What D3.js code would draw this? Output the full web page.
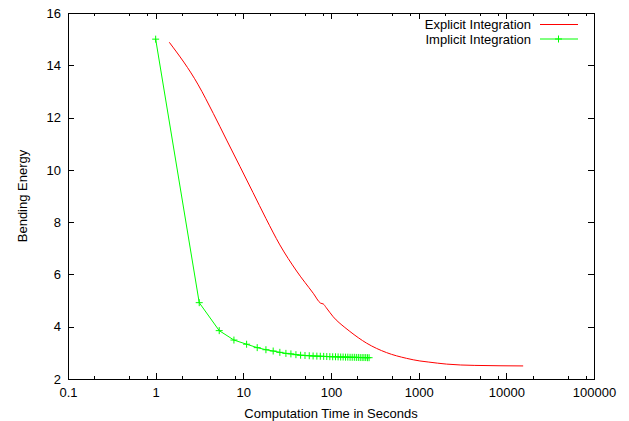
<!DOCTYPE html>
<html>
<head>
<meta charset="utf-8">
<script src="https://cdn.jsdelivr.net/npm/d3@7"></script>
<style>
  body { margin: 0; background: #fff; }
  svg { display: block; font-family: "Liberation Sans", Arial, sans-serif; }
  .tick text { font-size: 13px; fill: #000; }
</style>
</head>
<body>
<div id="chart"></div>
<script>
// explicit integration (red line)
const explicitTime = [1.43, 3.06, 4.54, 6.45, 9.15, 12.9, 18.1, 26.1, 40.5, 62.7, 76.2, 81.7, 87.7, 106, 144, 164, 255, 430, 728, 1032, 1285, 2080, 4375, 15560];
const explicitEnergy = [14.88, 13.25, 12.16, 11.14, 10.13, 9.13, 8.14, 7.13, 6.13, 5.28, 4.90, 4.87, 4.74, 4.38, 3.97, 3.82, 3.37, 3.01, 2.79, 2.69, 2.65, 2.57, 2.52, 2.50];

// implicit integration (green, with + markers)
const implicitTime = [1, 3.14, 5.31, 7.81, 10.9, 14.4, 18.1, 21.9, 26.1, 30.6, 34.9, 39.8, 45, 50.5, 56.5, 62.5, 69, 75.5, 82.5, 89.5, 97, 104.5, 112.5, 120.5, 129, 137.5, 146.5, 155.5, 165, 174.5, 184.5, 194.5, 205, 215.5, 226.5, 237.5, 249, 260.5, 272];
const implicitEnergy = [15.0, 4.92, 3.85, 3.49, 3.33, 3.20, 3.12, 3.07, 3.02, 2.98, 2.96, 2.93, 2.91, 2.90, 2.89, 2.88, 2.875, 2.87, 2.865, 2.86, 2.855, 2.85, 2.85, 2.845, 2.84, 2.84, 2.835, 2.835, 2.83, 2.83, 2.83, 2.825, 2.825, 2.82, 2.82, 2.82, 2.82, 2.815, 2.815];

const xTicks = [0.1, 1, 10, 100, 1000, 10000, 100000];
const xTickLabels = ["0.1", "1", "10", "100", "1000", "10000", "100000"];
const xMinorTicks = [0.2, 0.5, 0.8, 2, 5, 8, 20, 50, 80, 200, 500, 800, 2000, 5000, 8000, 20000, 50000, 80000];
const yTicks = [2, 4, 6, 8, 10, 12, 14, 16];

const width = 629,
    height = 421,
    margin = ({ top: 13, right: 35, bottom: 42, left: 68 });

const svg = d3.select("#chart")
    .append("svg")
    .attr("width", width)
    .attr("height", height)
    .attr("viewBox", [0, 0, width, height]);

const x = d3.scaleLog([0.1, 100000], [margin.left, width - margin.right]);
const y = d3.scaleLinear([2, 16], [height - margin.bottom, margin.top]);

// bottom axis with labels
svg.append("g")
    .attr("transform", `translate(0,${height - margin.bottom})`)
    .call(d3.axisBottom(x).tickValues(xTicks).tickSize(-6).tickPadding(9)
        .tickFormat((d, i) => xTickLabels[i]))
    .call(g => g.select(".domain").remove());

svg.append("g")
    .attr("transform", `translate(0,${height - margin.bottom})`)
    .call(d3.axisBottom(x).tickValues(xMinorTicks).tickSize(-3).tickFormat(""))
    .call(g => g.select(".domain").remove());

// mirrored top ticks
svg.append("g")
    .attr("transform", `translate(0,${margin.top})`)
    .call(d3.axisTop(x).tickValues(xTicks).tickSize(-6).tickFormat(""))
    .call(g => g.select(".domain").remove());

svg.append("g")
    .attr("transform", `translate(0,${margin.top})`)
    .call(d3.axisTop(x).tickValues(xMinorTicks).tickSize(-3).tickFormat(""))
    .call(g => g.select(".domain").remove());

// left axis with labels
svg.append("g")
    .attr("transform", `translate(${margin.left},0)`)
    .call(d3.axisLeft(y).tickValues(yTicks).tickSize(-6).tickPadding(7))
    .call(g => g.select(".domain").remove());

// mirrored right ticks
svg.append("g")
    .attr("transform", `translate(${width - margin.right},0)`)
    .call(d3.axisRight(y).tickValues(yTicks).tickSize(-6).tickFormat(""))
    .call(g => g.select(".domain").remove());

svg.selectAll(".tick line").attr("shape-rendering", "crispEdges");

// border
svg.append("rect")
    .attr("x", margin.left)
    .attr("y", margin.top)
    .attr("width", width - margin.left - margin.right)
    .attr("height", height - margin.top - margin.bottom)
    .attr("fill", "none")
    .attr("stroke", "#000")
    .attr("shape-rendering", "crispEdges");

const explicit = explicitTime.map((t, i) => ({ t: t, e: explicitEnergy[i] }));
const implicit = implicitTime.map((t, i) => ({ t: t, e: implicitEnergy[i] }));

const smooth = d3.line()
    .x(d => x(d.t))
    .y(d => y(d.e))
    .curve(d3.curveMonotoneX);

const line = d3.line()
    .x(d => x(d.t))
    .y(d => y(d.e));

svg.append("path")
    .datum(explicit)
    .attr("fill", "none")
    .attr("stroke", "#ff0000")
    .attr("stroke-width", 1)
    .attr("d", smooth);

svg.append("path")
    .datum(implicit)
    .attr("fill", "none")
    .attr("stroke", "#00ff00")
    .attr("stroke-width", 1)
    .attr("d", line);

svg.append("g")
    .selectAll("path")
    .data(implicit)
    .join("path")
    .attr("fill", "none")
    .attr("stroke", "#00ff00")
    .attr("stroke-width", 1)
    .attr("d", d => `M${x(d.t) - 3.5},${y(d.e)}h7M${x(d.t)},${y(d.e) - 3.5}v7`);

// legend
const legendItems = [
    { label: "Explicit Integration", color: "#ff0000", marker: false },
    { label: "Implicit Integration", color: "#00ff00", marker: true }
];

const legend = svg.append("g")
    .selectAll("g")
    .data(legendItems)
    .join("g")
    .attr("transform", (d, i) => `translate(0,${24.5 + i * 14.5})`);

legend.append("text")
    .attr("x", 531)
    .attr("y", 4.5)
    .attr("text-anchor", "end")
    .style("font-size", "13px")
    .text(d => d.label);

legend.append("line")
    .attr("x1", 540)
    .attr("x2", 578)
    .attr("stroke", d => d.color);

legend.filter(d => d.marker).append("path")
    .attr("stroke", d => d.color)
    .attr("d", "M558.5,-3.5v7M555,0h7");

// axis titles
svg.append("text")
    .attr("x", (margin.left + width - margin.right) / 2)
    .attr("y", 418)
    .attr("text-anchor", "middle")
    .style("font-size", "13px")
    .text("Computation Time in Seconds");

svg.append("text")
    .attr("transform", `translate(27,${(margin.top + height - margin.bottom) / 2}) rotate(-90)`)
    .attr("text-anchor", "middle")
    .style("font-size", "13px")
    .text("Bending Energy");
</script>
</body>
</html>
